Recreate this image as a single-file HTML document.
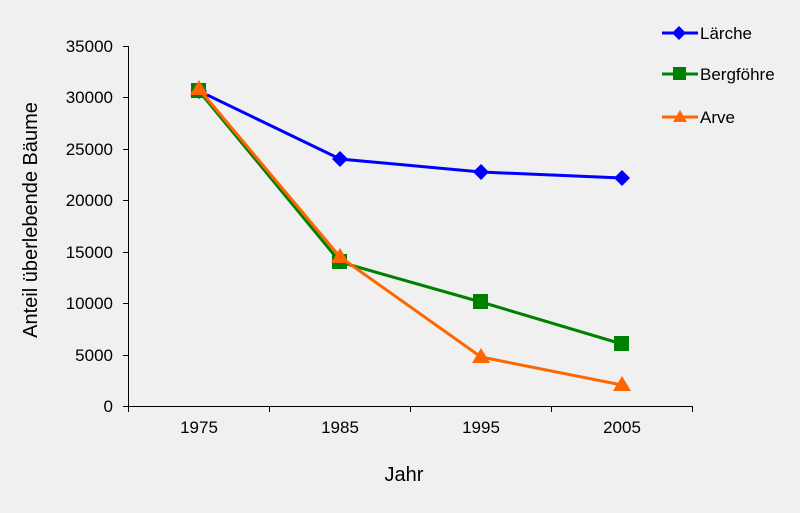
<!DOCTYPE html><html><head><style>body{margin:0;background:#f0f0f0}svg{display:block}text{font-family:"Liberation Sans",sans-serif;fill:#000}</style></head><body>
<svg width="800" height="513" viewBox="0 0 800 513">
<rect width="800" height="513" fill="#f0f0f0"/>
<g stroke="#000" stroke-width="1" fill="none">
<path d="M128.5 46V406.5H692.5"/>
<path d="M123 46.5h5M123 97.5h5M123 149.5h5M123 200.5h5M123 252.5h5M123 303.5h5M123 355.5h5M123 406.5h5"/>
<path d="M128.5 406v6M269.5 406v6M410.5 406v6M551.5 406v6M692.5 406v6"/>
</g>
<g font-size="17" text-anchor="end">
<text x="113" y="52">35000</text><text x="113" y="103">30000</text><text x="113" y="155">25000</text><text x="113" y="206">20000</text><text x="113" y="258">15000</text><text x="113" y="309">10000</text><text x="113" y="361">5000</text><text x="113" y="412">0</text>
</g>
<g font-size="17" text-anchor="middle">
<text x="199" y="433">1975</text><text x="340" y="433">1985</text><text x="481" y="433">1995</text><text x="622" y="433">2005</text>
</g>
<text x="404" y="481" font-size="20" text-anchor="middle">Jahr</text>
<text transform="translate(37,220) rotate(-90)" font-size="20" text-anchor="middle">Anteil überlebende Bäume</text>
<polyline points="199,91 340,159 481,172 622,178" fill="none" stroke="#0000ff" stroke-width="3"/>
<g fill="#0000ff"><path d="M199 83l8 8-8 8-8-8z"/><path d="M340 151l8 8-8 8-8-8z"/><path d="M481 164l8 8-8 8-8-8z"/><path d="M622 170l8 8-8 8-8-8z"/></g>
<polyline points="199,91 340,262 481,302 622,344" fill="none" stroke="#008000" stroke-width="3"/>
<g fill="#008000"><rect x="191" y="83" width="15" height="15"/><rect x="332" y="254" width="15" height="15"/><rect x="473" y="294" width="15" height="15"/><rect x="614" y="336" width="15" height="15"/></g>
<polyline points="199,89 340,257 481,357 622,385" fill="none" stroke="#ff6600" stroke-width="3"/>
<g fill="#ff6600"><path d="M199 80l9 15h-18z"/><path d="M340 248l9 15h-18z"/><path d="M481 348l9 15h-18z"/><path d="M622 376l9 15h-18z"/></g>
<g font-size="17">
<line x1="662" y1="33" x2="698" y2="33" stroke="#0000ff" stroke-width="3"/><path d="M679 26l7 7-7 7-7-7z" fill="#0000ff"/><text x="700" y="39">Lärche</text>
<line x1="662" y1="74" x2="698" y2="74" stroke="#008000" stroke-width="3"/><rect x="673" y="67" width="13" height="13" fill="#008000"/><text x="700" y="80">Bergföhre</text>
<line x1="662" y1="117" x2="698" y2="117" stroke="#ff6600" stroke-width="3"/><path d="M680 110l7 12h-14z" fill="#ff6600"/><text x="700" y="123">Arve</text>
</g>
</svg></body></html>
